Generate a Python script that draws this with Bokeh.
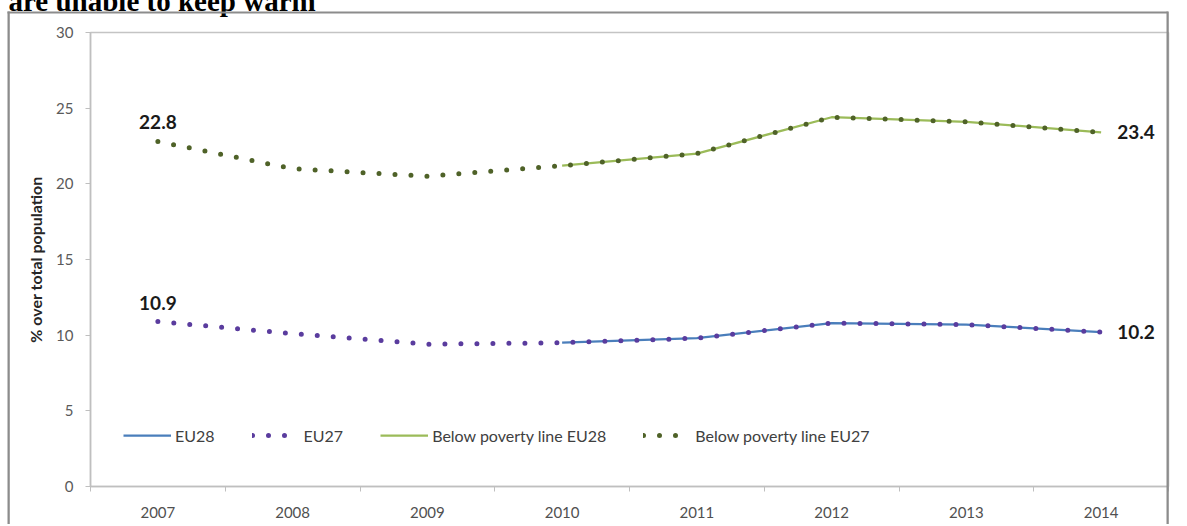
from bokeh.plotting import figure
from bokeh.models import FixedTicker, Legend, LegendItem, Label, Range1d
from bokeh.embed import file_html
from bokeh.resources import INLINE

# ---- data ----
years = [2007, 2008, 2009, 2010, 2011, 2012, 2013, 2014]
eu27 = [10.9, 10.1, 9.4, 9.5, 9.8, 10.8, 10.7, 10.2]
eu28_years = [2010, 2011, 2012, 2013, 2014]
eu28 = [9.5, 9.8, 10.8, 10.7, 10.2]
pov27 = [22.8, 21.0, 20.5, 21.2, 22.0, 24.4, 24.1, 23.4]
pov28 = [21.2, 22.0, 24.4, 24.1, 23.4]
y_ticks = [0, 5, 10, 15, 20, 25, 30]
series_names = ["EU28", "EU27", "Below poverty line EU28", "Below poverty line EU27"]
title_text = "are unable to keep warm"
y_title = "% over total population"

FONT = "Lato"
W, H = 1185, 524

p = figure(width=W, height=H, output_backend="svg", toolbar_location=None,
           x_range=Range1d(years[0] - 0.5, years[-1] + 0.5), y_range=Range1d(y_ticks[0], y_ticks[-1]),
           min_border_left=90, min_border_right=W - 1168, min_border_top=32, min_border_bottom=H - 486)
p.background_fill_color = "white"
p.border_fill_color = "white"
p.outline_line_color = "#C4C4C4"
p.outline_line_width = 1.5
p.xgrid.visible = False
p.ygrid.visible = False

# x axis: labels at category centers, ticks at category boundaries
p.xaxis.ticker = FixedTicker(ticks=years, minor_ticks=[y - 0.5 for y in years] + [years[-1] + 0.5])
p.xaxis.major_tick_in = 0
p.xaxis.major_tick_out = 0
p.xaxis.minor_tick_in = 0
p.xaxis.minor_tick_out = 5
p.xaxis.minor_tick_line_color = "#BFBFBF"
p.xaxis.axis_line_color = "#BFBFBF"
p.xaxis.axis_line_width = 1.5
p.xaxis.major_label_text_font = FONT
p.xaxis.major_label_text_font_size = "15px"
p.xaxis.major_label_text_color = "#505050"
p.xaxis.major_label_standoff = 15

p.yaxis.ticker = FixedTicker(ticks=y_ticks)
p.yaxis.minor_tick_line_color = None
p.yaxis.major_tick_in = 0
p.yaxis.major_tick_out = 5
p.yaxis.major_tick_line_color = "#BFBFBF"
p.yaxis.axis_line_color = "#BFBFBF"
p.yaxis.axis_line_width = 1.5
p.yaxis.major_label_text_font = FONT
p.yaxis.major_label_text_font_size = "15px"
p.yaxis.major_label_text_color = "#5a5a5a"
p.yaxis.major_label_standoff = 12
p.yaxis.axis_label = y_title
p.yaxis.axis_label_text_font = FONT
p.yaxis.axis_label_text_font_style = "bold"
p.yaxis.axis_label_text_font_size = "16px"
p.yaxis.axis_label_text_color = "#262626"
p.yaxis.axis_label_standoff = 8

BLUE = "#4A7EBB"
PURPLE = "#5A3C9E"
LGREEN = "#9BBB59"
DGREEN = "#4F6228"

r1 = p.line(eu28_years, eu28, line_color=BLUE, line_width=2.25)
r2 = p.line(years, eu27, line_color=PURPLE, line_width=5, line_dash="0 16", line_cap="round")
r3 = p.line(eu28_years, pov28, line_color=LGREEN, line_width=2.25)
r4 = p.line(years, pov27, line_color=DGREEN, line_width=5, line_dash="0 16", line_cap="round")

legend = Legend(items=[LegendItem(label=n, renderers=[r]) for n, r in zip(series_names, [r1, r2, r3, r4])],
                orientation="horizontal", location=(33, 41))
legend.padding = 0
legend.margin = 0
legend.spacing = 37
legend.glyph_width = 48
legend.label_standoff = 4
legend.border_line_alpha = 0
legend.background_fill_alpha = 0
legend.label_text_font = FONT
legend.label_text_font_size = "16px"
legend.label_text_color = "#404040"
p.add_layout(legend, "center")

# data labels at the ends of the EU27 series
for ser in (eu27, pov27):
    p.add_layout(Label(x=years[0], y=ser[0], text=f"{ser[0]:.1f}", text_align="center", text_baseline="bottom",
                       y_offset=12, text_font=FONT, text_font_style="bold", text_font_size="19px",
                       text_color="#1a1a1a"))
    p.add_layout(Label(x=years[-1], y=ser[-1], text=f"{ser[-1]:.1f}", text_align="left", text_baseline="middle",
                       x_offset=16, text_font=FONT, text_font_style="bold", text_font_size="19px",
                       text_color="#1a1a1a"))

# outer chart frame: thin filled label boxes placed in canvas pixels (side panels are not clipped)
FRAME = "#8C8C8C"
def frame_line(x, y, pad):
    return Label(x=x, y=y, x_units="canvas", y_units="canvas", text=" ", text_font_size="1px",
                 text_align="left", text_baseline="top", padding=pad,
                 background_fill_color=FRAME, border_line_color=None)

p.add_layout(frame_line(7, 11, dict(left=0, right=2, top=0, bottom=520)), "left")
p.add_layout(frame_line(1166, 11, dict(left=0, right=2, top=0, bottom=520)), "right")
p.add_layout(frame_line(7, 11, dict(left=0, right=1160, top=0, bottom=1)), "below")

# heading of the page, cut off at the top like in the source image
p.add_layout(Label(x=8, y=0, x_units="canvas", y_units="canvas", text=title_text, text_baseline="alphabetic",
                   text_font="Liberation Serif", text_font_style="bold", text_font_size="29px",
                   text_color="black"), "above")

open("out.html", "w").write(file_html(p, INLINE))
